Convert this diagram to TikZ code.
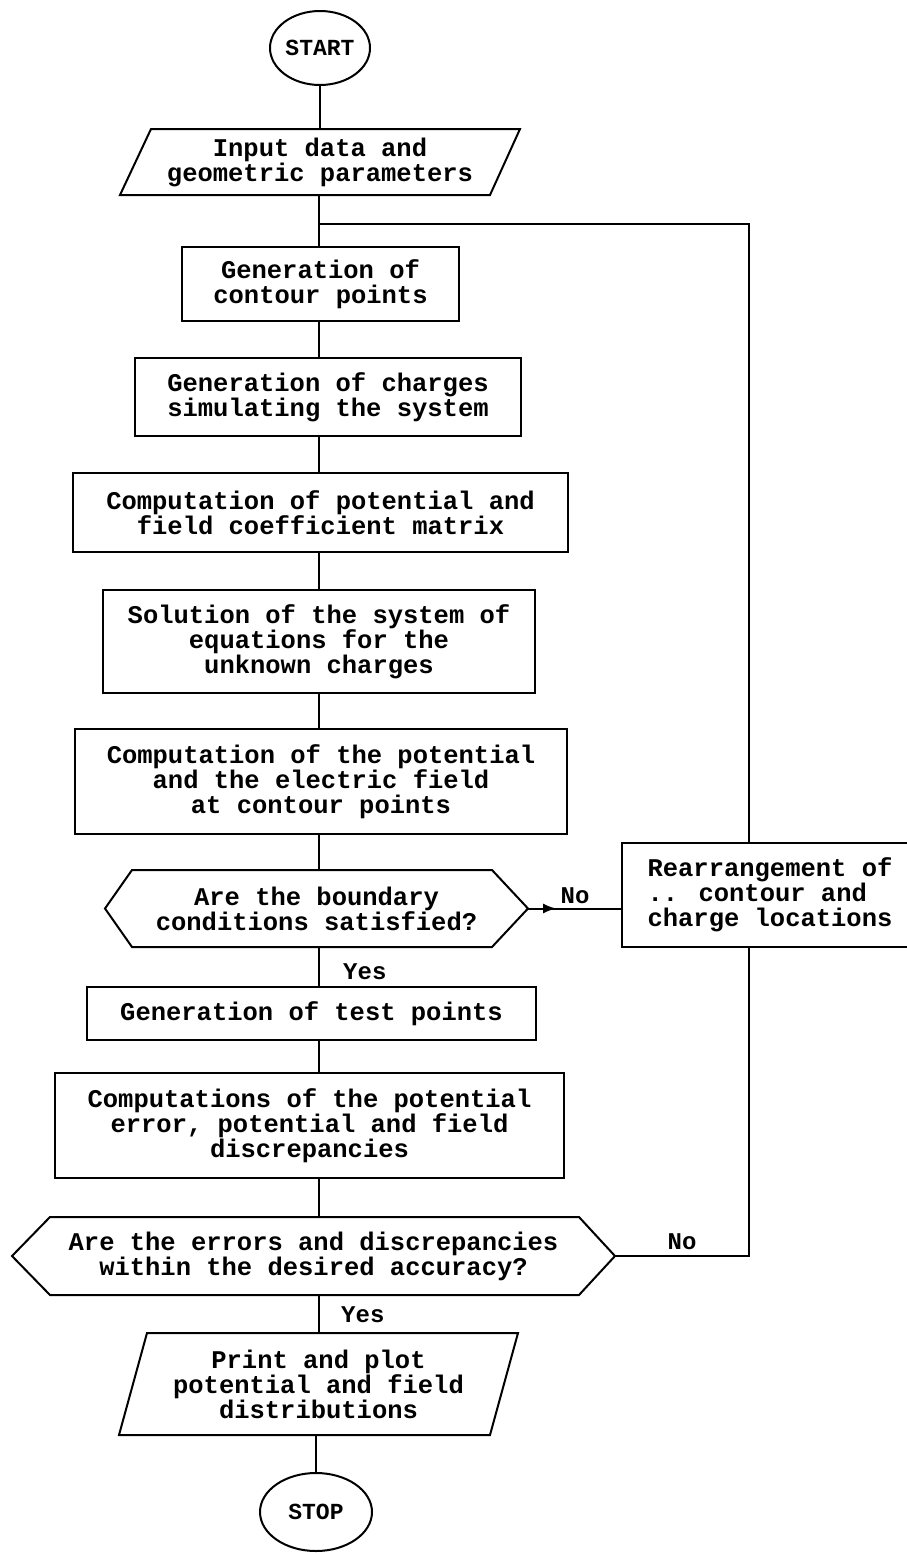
\documentclass[tikz,border=0pt]{standalone}
\usepackage{fontspec}
\newfontfamily\tw{Liberation Mono}
\usetikzlibrary{shapes.geometric,decorations.markings,arrows.meta}
\tikzset{
  lw/.style={line width=2pt},
  txt/.style={font=\tw\bfseries\fontsize{25.5}{25}\selectfont, align=center, inner sep=0pt, outer sep=0pt},
  procbox/.style={txt, draw, lw},
  shapebox/.style={txt},
  term/.style={ellipse, draw, lw, font=\tw\bfseries\fontsize{23}{24}\selectfont, inner sep=0pt, outer sep=0pt},
  lbl/.style={font=\tw\bfseries\fontsize{24}{24}\selectfont, inner sep=0pt},
  arrowmid/.style={postaction={decorate}, decoration={markings, mark=at position 0.3 with {\arrow{Latex[length=13pt,width=10pt]}}}}
}
\begin{document}
\begin{tikzpicture}[x=1pt,y=-1pt]
\useasboundingbox[fill=white] (0,0) rectangle (907,1553);

\node[term, minimum width=100pt, minimum height=74pt] (start) at (320,48) {START};
\node[shapebox, minimum width=400pt, minimum height=66pt] (inp) at (320,162) {Input data and\\geometric parameters};
\draw[lw] (inp.south west) -- ([xshift=31pt]inp.north west) -- (inp.north east) -- ([xshift=-30pt]inp.south east) -- cycle;

\node[procbox, minimum width=277pt, minimum height=74pt] (b1) at (320.5,284) {Generation of\\contour points};
\node[procbox, minimum width=386pt, minimum height=78pt] (b2) at (328,397) {Generation of charges\\simulating the system};
\node[procbox, minimum width=495pt, minimum height=79pt] (b3) at (320.5,512.5) {Computation of potential and\\field coefficient matrix};
\node[procbox, minimum width=432pt, minimum height=103pt] (b4) at (319,641.5) {Solution of the system of\\equations for the\\unknown charges};
\node[procbox, minimum width=492pt, minimum height=105pt] (b5) at (321,781.5) {Computation of the potential\\and the electric field\\at contour points};

\node[shapebox, minimum width=423pt, minimum height=77pt] (d1) at (316.5,908.5) {Are the boundary\\conditions satisfied?};
\draw[lw] (d1.west) -- ([xshift=27pt]d1.north west) -- ([xshift=-36pt]d1.north east) -- (d1.east) -- ([xshift=-36pt]d1.south east) -- ([xshift=27pt]d1.south west) -- cycle;

\node[procbox, align=left, minimum width=296pt, minimum height=104pt] (R) at (770,895) {Rearrangement of\\.. contour and\\charge locations};

\node[procbox, minimum width=449pt, minimum height=53pt] (b6) at (311.5,1013.5) {Generation of test points};
\node[procbox, minimum width=509pt, minimum height=105pt] (b7) at (309.5,1125.5) {Computations of the potential\\error, potential and field\\discrepancies};

\node[shapebox, minimum width=603pt, minimum height=78pt] (d2) at (313.5,1256) {Are the errors and discrepancies\\within the desired accuracy?};
\draw[lw] (d2.west) -- ([xshift=38pt]d2.north west) -- ([xshift=-36pt]d2.north east) -- (d2.east) -- ([xshift=-36pt]d2.south east) -- ([xshift=38pt]d2.south west) -- cycle;

\node[shapebox, minimum width=399pt, minimum height=102pt] (pr) at (318.5,1384) {Print and plot\\potential and field\\distributions};
\draw[lw] (pr.south west) -- ([xshift=28pt]pr.north west) -- (pr.north east) -- ([xshift=-28pt]pr.south east) -- cycle;

\node[term, minimum width=112pt, minimum height=78pt] (stop) at (316,1512) {STOP};

\node[lbl, anchor=south] (no1) at (575,904) {No};
\node[lbl, anchor=west] (yes1) at (343,972) {Yes};
\node[lbl] (no2) at (682,1242) {No};
\node[lbl, anchor=west] (yes2) at (341,1315) {Yes};

\coordinate (axis) at (319,0);
\coordinate (jL) at (319,224);
\coordinate (jR) at (749,224);

\draw[lw] (start.south) -- (start.south |- inp.north);
\draw[lw] (inp.south -| axis) -- (b1.north -| axis);
\draw[lw] (b1.south -| axis) -- (b2.north -| axis);
\draw[lw] (b2.south -| axis) -- (b3.north -| axis);
\draw[lw] (b3.south -| axis) -- (b4.north -| axis);
\draw[lw] (b4.south -| axis) -- (b5.north -| axis);
\draw[lw] (b5.south -| axis) -- (d1.north -| axis);
\draw[lw] (d1.south -| axis) -- (b6.north -| axis);
\draw[lw] (b6.south -| axis) -- (b7.north -| axis);
\draw[lw] (b7.south -| axis) -- (d2.north -| axis);
\draw[lw] (d2.south -| axis) -- (pr.north -| axis);
\draw[lw] (pr.south -| stop) -- (stop.north);

\draw[lw, arrowmid] (d1.east) -- (d1.east -| R.west);
\draw[lw] (R.north -| jR) -- (jR) -- (jL);
\draw[lw] (d2.east) -| (R.south -| jR);
\end{tikzpicture}
\end{document}
